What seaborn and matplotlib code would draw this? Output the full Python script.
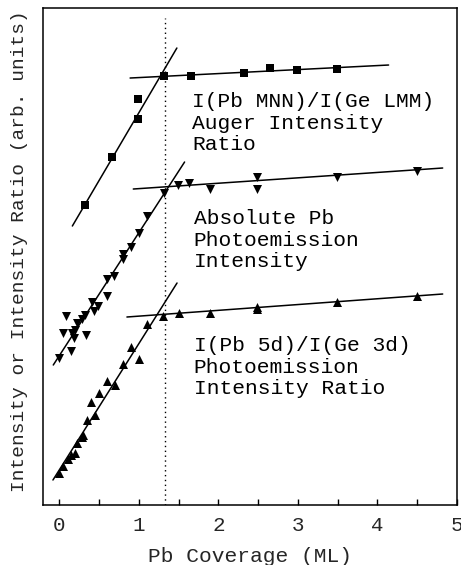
import numpy as np
import pandas as pd
import seaborn as sns
import matplotlib.pyplot as plt
from matplotlib.ticker import MultipleLocator

# Auger ratio (squares)
auger_x = [0.32, 0.66, 0.99, 0.99, 1.32, 1.66, 2.32, 2.65, 2.99, 3.49]
auger_y = [3.00, 3.48, 3.86, 4.06, 4.29, 4.29, 4.32, 4.37, 4.35, 4.36]
auger_fit1_x = [0.164, 1.478]
auger_fit1_y = [2.79, 4.57]
auger_fit2_x = [0.89, 4.14]
auger_fit2_y = [4.27, 4.40]

# Absolute Pb photoemission (down triangles)
abs_x = [0.00, 0.15, 0.18, 0.16, 0.05, 0.34, 0.20, 0.22, 0.09, 0.28, 0.32,
         0.44, 0.49, 0.41, 0.60, 0.60, 0.69, 0.80, 0.80, 0.90, 1.00, 1.10,
         1.31, 1.49, 1.63, 1.90, 2.49, 2.49, 3.49, 4.50]
abs_y = [1.47, 1.54, 1.67, 1.72, 1.72, 1.70, 1.75, 1.82, 1.89, 1.86, 1.90,
         1.94, 1.99, 2.03, 2.09, 2.26, 2.29, 2.46, 2.51, 2.58, 2.72, 2.89,
         3.12, 3.20, 3.22, 3.16, 3.28, 3.16, 3.28, 3.34]
abs_fit1_x = [-0.076, 1.575]
abs_fit1_y = [1.40, 3.43]
abs_fit2_x = [0.93, 4.82]
abs_fit2_y = [3.16, 3.37]

# I(Pb 5d)/I(Ge 3d) ratio (up triangles)
pe_x = [0.00, 0.05, 0.11, 0.15, 0.20, 0.22, 0.28, 0.30, 0.35, 0.45, 0.40,
        0.50, 0.70, 0.60, 0.80, 1.00, 0.90, 1.10,
        1.30, 1.50, 1.90, 2.49, 2.49, 3.49, 4.50]
pe_y = [0.32, 0.39, 0.46, 0.50, 0.52, 0.62, 0.68, 0.70, 0.85, 0.90, 1.03,
        1.12, 1.20, 1.24, 1.41, 1.46, 1.58, 1.81,
        1.89, 1.92, 1.92, 1.98, 1.96, 2.03, 2.09]
pe_fit1_x = [-0.08, 1.48]
pe_fit1_y = [0.25, 2.22]
pe_fit2_x = [0.85, 4.82]
pe_fit2_y = [1.88, 2.11]

monolayer = 1.335

sns.set_style("white")
plt.rcParams['font.family'] = ['Liberation Mono', 'DejaVu Sans Mono']

fig = plt.figure(figsize=(4.61, 5.65), dpi=100)
ax = fig.add_axes([0.0933, 0.1062, 0.898, 0.8796])

mk = dict(color='black', edgecolor='black', linewidth=0, legend=False, ax=ax)
sns.scatterplot(x=auger_x, y=auger_y, marker='s', s=30, **mk)
sns.scatterplot(x=abs_x, y=abs_y, marker='v', s=42, **mk)
sns.scatterplot(x=pe_x, y=pe_y, marker='^', s=42, **mk)

for fx, fy in [(auger_fit1_x, auger_fit1_y), (auger_fit2_x, auger_fit2_y),
               (abs_fit1_x, abs_fit1_y), (abs_fit2_x, abs_fit2_y),
               (pe_fit1_x, pe_fit1_y), (pe_fit2_x, pe_fit2_y)]:
    sns.lineplot(x=fx, y=fy, color='black', linewidth=1.1, sort=False,
                 estimator=None, ax=ax)

ax.set_xlim(-0.205, 5.0)
ax.set_ylim(0, 4.97)
ax.axvline(monolayer, ymax=4.87 / 4.97, color='black', linestyle=(0, (1, 2.5)),
           linewidth=1.0)

txt = dict(fontsize=15.3, color='black', ha='left', va='center', linespacing=1.15)
ax.text(1.67, 3.82, "I(Pb MNN)/I(Ge LMM)\nAuger Intensity\nRatio", **txt)
ax.text(1.69, 2.65, "Absolute Pb\nPhotoemission\nIntensity", **txt)
ax.text(1.69, 1.38, "I(Pb 5d)/I(Ge 3d)\nPhotoemission\nIntensity Ratio", **txt)

ax.xaxis.set_major_locator(MultipleLocator(1))
ax.xaxis.set_minor_locator(MultipleLocator(0.5))
ax.set_yticks([])
ax.tick_params(axis='x', which='both', direction='in', length=4, width=1,
               bottom=True, top=False, labelsize=15, pad=8, color='black')
for sp in ax.spines.values():
    sp.set_color('black')
    sp.set_linewidth(1.1)

ax.set_xlabel("Pb Coverage (ML)", fontsize=15.3, va='center')
ax.xaxis.set_label_coords(0.5, -0.104)
ax.set_ylabel("Intensity or Intensity Ratio (arb. units)", fontsize=14, va='center')
ax.yaxis.set_label_coords(-0.057, 0.51)

fig.savefig("out.png", dpi=100)
